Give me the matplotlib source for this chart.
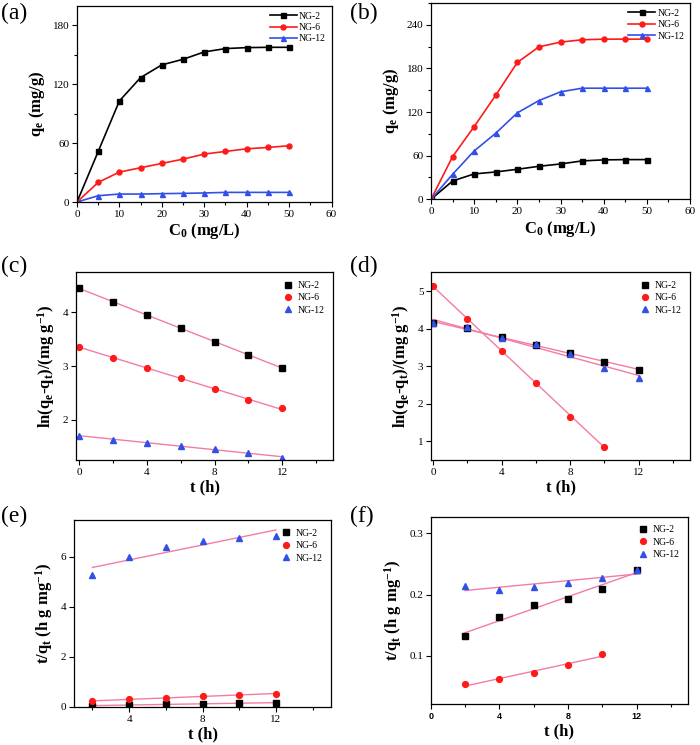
import matplotlib
matplotlib.use('Agg')
import matplotlib.pyplot as plt
from matplotlib.ticker import MultipleLocator, FormatStrFormatter
import numpy as np

plt.rcParams['font.family'] = 'Liberation Serif'
plt.rcParams['mathtext.fontset'] = 'custom'
plt.rcParams['mathtext.rm'] = 'Liberation Serif'
plt.rcParams['mathtext.bf'] = 'Liberation Serif:bold'
plt.rcParams['mathtext.it'] = 'Liberation Serif:italic'

names = ['NG-2', 'NG-6', 'NG-12']
colors = ['black', '#ff1a1a', '#3050e8']
markers = ['s', 'o', '^']
fit_color = '#f47ca4'

# (a) / (b) isotherms
c0 = [0, 5, 10, 15, 20, 25, 30, 35, 40, 45, 50]
qe_a = [
    [0, 51.5, 103.0, 126.8, 139.7, 145.4, 152.9, 156.3, 157.3, 157.6, 157.6],
    [0, 20.0, 30.5, 34.9, 39.3, 43.7, 48.8, 51.5, 54.2, 55.6, 57.3],
    [0, 6.4, 8.1, 8.1, 8.5, 8.8, 9.2, 9.8, 9.8, 9.8, 9.8],
]
qe_b = [
    [0, 25.2, 34.9, 37.6, 41.3, 45.4, 48.6, 52.8, 54.2, 54.6, 54.6],
    [0, 58.7, 100.0, 143.2, 188.2, 209.7, 216.2, 219.4, 220.3, 220.3, 220.3],
    [0, 34.4, 66.5, 90.9, 118.9, 135.8, 147.8, 152.8, 152.8, 152.8, 152.8],
]

# (c) / (d) pseudo-first-order
t_c = [[0, 2, 4, 6, 8, 10, 12]] * 3
ln_c = [
    [4.447, 4.186, 3.950, 3.708, 3.453, 3.211, 2.957],
    [3.360, 3.155, 2.957, 2.770, 2.565, 2.366, 2.211],
    [1.702, 1.627, 1.571, 1.516, 1.453, 1.385, 1.292],
]
t_d = [[0, 2, 4, 6, 8, 10, 12], [0, 2, 4, 6, 8, 10], [0, 2, 4, 6, 8, 10, 12]]
ln_d = [
    [4.140, 4.007, 3.785, 3.563, 3.340, 3.120, 2.898],
    [5.133, 4.255, 3.395, 2.561, 1.656, 0.858],
    [4.157, 4.033, 3.740, 3.580, 3.314, 2.960, 2.694],
]

# (e) / (f) pseudo-second-order
t_e = [[2, 4, 6, 8, 10, 12]] * 3
tq_e = [
    [0.05, 0.08, 0.11, 0.13, 0.15, 0.17],
    [0.23, 0.31, 0.37, 0.43, 0.48, 0.53],
    [5.25, 6.00, 6.40, 6.64, 6.76, 6.84],
]
t_f = [[2, 4, 6, 8, 10, 12], [2, 4, 6, 8, 10], [2, 4, 6, 8, 10, 12]]
tq_f = [
    [0.1326, 0.1630, 0.1826, 0.1935, 0.2092, 0.2400],
    [0.0538, 0.0620, 0.0717, 0.0848, 0.1033],
    [0.2147, 0.2076, 0.2125, 0.2190, 0.2266, 0.2397],
]

W, H = 700, 745
fig = plt.figure(figsize=(7, 7.45), dpi=100)

def box(l, r, t, b):
    return [l / W, (H - b) / H, (r - l) / W, (b - t) / H]

def style(ax):
    ax.tick_params(which='both', direction='out', labelsize=8, pad=2)
    ax.tick_params(which='major', length=3.5, width=0.8)
    ax.tick_params(which='minor', length=2, width=0.8)
    for s in ax.spines.values():
        s.set_linewidth(0.9)

ax_a = fig.add_axes(box(77, 331.5, 5.7, 202))
ax_b = fig.add_axes(box(431, 690, 3, 199.3))
ax_c = fig.add_axes(box(76, 333, 272.3, 460))
ax_d = fig.add_axes(box(431, 690, 272.3, 460))
ax_e = fig.add_axes(box(74, 331, 520, 707))
ax_f = fig.add_axes(box(430.7, 688.3, 516.7, 704.3))

# panel letters, placed in figure pixels
for lab, x, y in [('(a)', 1, 3), ('(b)', 350, 3), ('(c)', 1, 256),
                  ('(d)', 350, 256), ('(e)', 1, 506), ('(f)', 350, 506)]:
    fig.text(x / W, 1 - y / H, lab, fontsize=17, va='top', ha='left')

# isotherm panels
for ax, data, ymax in [(ax_a, qe_a, 200), (ax_b, qe_b, 270)]:
    for y, n, c, m in zip(data, names, colors, markers):
        ax.plot(c0, y, color=c, marker=m, markersize=3.6, lw=1.2, label=n)
    ax.set_xlim(0, 60)
    ax.set_ylim(0, ymax)
    ax.xaxis.set_major_locator(MultipleLocator(10))
    ax.xaxis.set_minor_locator(MultipleLocator(5))
    ax.yaxis.set_major_locator(MultipleLocator(60))
    ax.yaxis.set_minor_locator(MultipleLocator(30))
    ax.set_xlabel(r'C$_\mathbf{0}$ (mg/L)', fontsize=12, fontweight='bold', labelpad=2)
    ax.set_ylabel(r'q$_\mathbf{e}$ (mg/g)', fontsize=12, fontweight='bold', labelpad=4)
    ax.legend(loc='upper right', frameon=False, fontsize=7, handlelength=2.8,
              handletextpad=0.2, labelspacing=0.25, borderaxespad=0.2)
    style(ax)

# kinetic panels
kin = [
    (ax_c, t_c, ln_c, (-0.2, 15), (1.25, 4.745), 1,
     r'ln(q$_\mathbf{e}$-q$_\mathbf{t}$)/(mg g$^\mathbf{-1}$)'),
    (ax_d, t_d, ln_d, (-0.13, 15), (0.5, 5.5), 1,
     r'ln(q$_\mathbf{e}$-q$_\mathbf{t}$)/(mg g$^\mathbf{-1}$)'),
    (ax_e, t_e, tq_e, (1, 15), (0, 7.46), 2,
     r't/q$_\mathbf{t}$ (h g mg$^\mathbf{-1}$)'),
    (ax_f, t_f, tq_f, (0, 15), (0.021, 0.327), 0.1,
     r't/q$_\mathbf{t}$ (h g mg$^\mathbf{-1}$)'),
]
for ax, ts, ys, xl, yl, ystep, ylabel in kin:
    for t, y, n, c, m in zip(ts, ys, names, colors, markers):
        ax.plot(t, y, ls='none', color=c, marker=m, markersize=4.2, label=n)
    for t, y in zip(ts, ys):
        k, b = np.polyfit(t, y, 1)
        tt = np.array([t[0], t[-1]])
        ax.plot(tt, k * tt + b, color=fit_color, lw=1.0, zorder=1)
    ax.set_xlim(*xl)
    ax.set_ylim(*yl)
    ax.xaxis.set_major_locator(MultipleLocator(4))
    ax.xaxis.set_minor_locator(MultipleLocator(2))
    ax.yaxis.set_major_locator(MultipleLocator(ystep))
    ax.set_xlabel('t (h)', fontsize=12, fontweight='bold', labelpad=2)
    ax.set_ylabel(ylabel, fontsize=12, fontweight='bold', labelpad=4)
    ax.legend(loc='upper right', frameon=False, fontsize=7, handlelength=1.2,
              handletextpad=0.4, labelspacing=0.35, borderaxespad=0.5)
    style(ax)

ax_f.yaxis.set_major_formatter(FormatStrFormatter('%.1f'))
for tl in ax_f.get_xticklabels():
    tl.set_fontfamily('Liberation Sans')
    tl.set_fontweight('bold')
    tl.set_fontsize(6.5)

fig.savefig('out.png', dpi=100)
